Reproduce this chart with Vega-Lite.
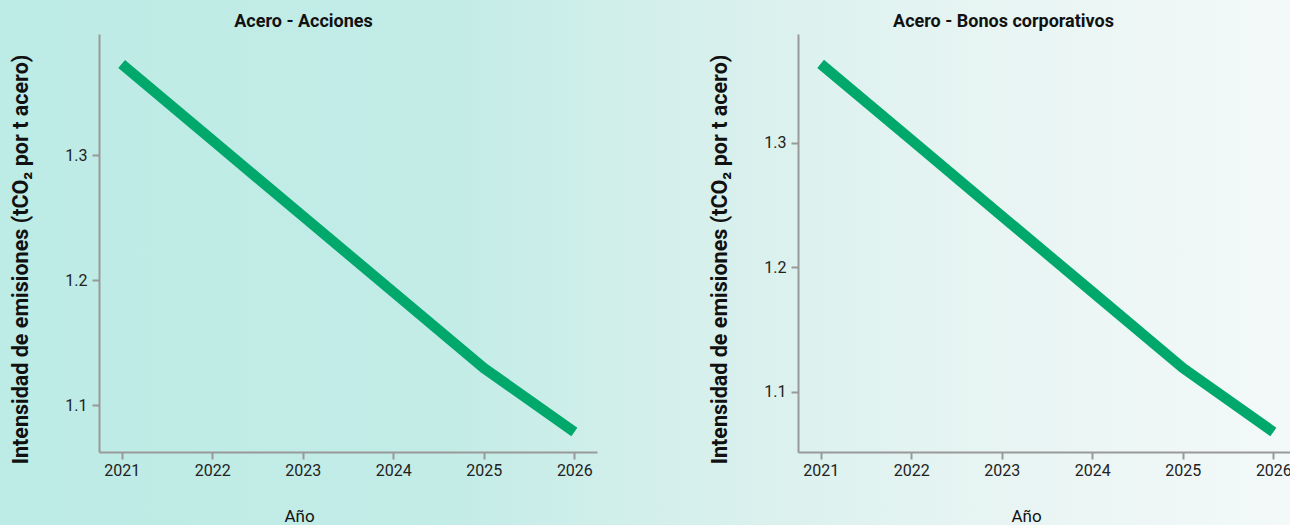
{
  "$schema": "https://vega.github.io/schema/vega-lite/v6.json",
  "padding": 0,
  "background": "#d3efeb",
  "datasets": {
    "acciones": [
      {"anio": 2021, "intensidad": 1.3728},
      {"anio": 2022, "intensidad": 1.312},
      {"anio": 2023, "intensidad": 1.2512},
      {"anio": 2024, "intensidad": 1.1904},
      {"anio": 2025, "intensidad": 1.1296},
      {"anio": 2026, "intensidad": 1.0784}
    ],
    "bonos": [
      {"anio": 2021, "intensidad": 1.3635},
      {"anio": 2022, "intensidad": 1.3025},
      {"anio": 2023, "intensidad": 1.2414},
      {"anio": 2024, "intensidad": 1.1804},
      {"anio": 2025, "intensidad": 1.1193},
      {"anio": 2026, "intensidad": 1.0679}
    ]
  },
  "hconcat": [
    {
      "title": {"text": "Acero - Acciones", "frame": "group", "offset": -31, "dx": -19},
      "width": 645,
      "height": 525,
      "view": {
        "stroke": null,
        "fill": {
          "gradient": "linear", "x1": 0, "y1": 0, "x2": 1, "y2": 0,
          "stops": [
            {"offset": 0, "color": "#bdebe5"},
            {"offset": 0.7, "color": "#c3ece7"},
            {"offset": 1, "color": "#d3efeb"}
          ]
        }
      },
      "data": {"name": "acciones"},
      "mark": {"type": "line", "color": "#00a86b", "strokeWidth": 10.5},
      "encoding": {
        "x": {
          "field": "anio", "type": "ordinal", "title": "Año",
          "scale": {"type": "point", "padding": 0.25, "range": [99, 597]},
          "axis": {"labelAngle": 0, "offset": -73, "titleX": 299, "titleY": 69}
        },
        "y": {
          "field": "intensidad", "type": "quantitative",
          "title": "Intensidad de emisiones (tCO₂ por t acero)",
          "scale": {"domain": [1.0624, 1.3968], "zero": false, "nice": false, "range": [452, 34]},
          "axis": {"values": [1.1, 1.2, 1.3], "format": ".1f", "offset": -99, "titleY": 259}
        }
      }
    },
    {
      "title": {"text": "Acero - Bonos corporativos", "frame": "group", "offset": -31, "dx": 36},
      "width": 645,
      "height": 525,
      "view": {
        "stroke": null,
        "fill": {
          "gradient": "linear", "x1": 0, "y1": 0, "x2": 1, "y2": 0,
          "stops": [
            {"offset": 0, "color": "#d3efeb"},
            {"offset": 0.5, "color": "#e6f4f2"},
            {"offset": 1, "color": "#f3f9f9"}
          ]
        }
      },
      "data": {"name": "bonos"},
      "mark": {"type": "line", "color": "#00a86b", "strokeWidth": 10.5},
      "encoding": {
        "x": {
          "field": "anio", "type": "ordinal", "title": "Año",
          "scale": {"type": "point", "padding": 0.25, "range": [153, 651]},
          "axis": {"labelAngle": 0, "offset": -73, "titleX": 381, "titleY": 69}
        },
        "y": {
          "field": "intensidad", "type": "quantitative",
          "title": "Intensidad de emisiones (tCO₂ por t acero)",
          "scale": {"domain": [1.0518, 1.3875], "zero": false, "nice": false, "range": [452, 34]},
          "axis": {"values": [1.1, 1.2, 1.3], "format": ".1f", "offset": -153, "titleY": 259}
        }
      }
    }
  ],
  "spacing": 0,
  "config": {
    "font": "Roboto",
    "title": {"fontSize": 18, "fontWeight": "bold", "color": "#111111"},
    "axis": {
      "grid": false,
      "domainColor": "#999999",
      "domainWidth": 2,
      "tickColor": "#999999",
      "tickWidth": 2,
      "tickSize": 7,
      "labelFontSize": 16,
      "labelColor": "#222222",
      "titleColor": "#111111"
    },
    "axisX": {"titleFontSize": 17, "titleFontWeight": "normal", "titleBaseline": "alphabetic", "labelPadding": 3},
    "axisY": {"titleFontSize": 21.5, "titleFontWeight": "bold", "titlePadding": 32, "labelPadding": 5}
  }
}
